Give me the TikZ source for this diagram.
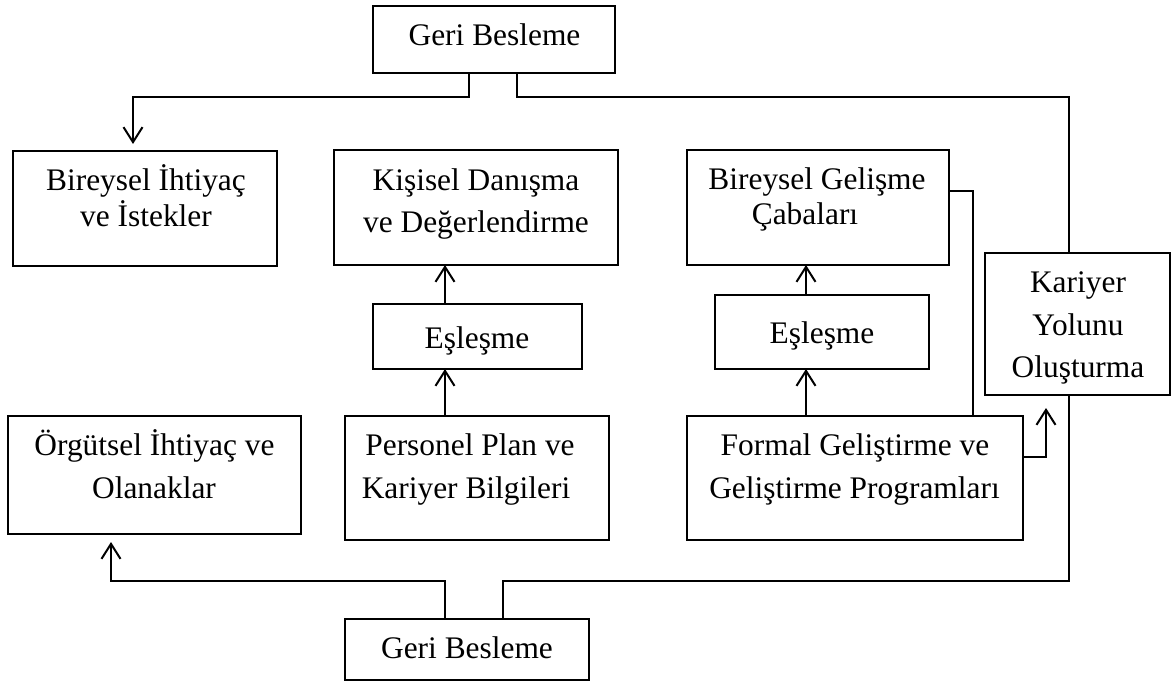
\documentclass[tikz,border=0pt]{standalone}
\usepackage{fontspec}
\setmainfont{Liberation Serif}
\usetikzlibrary{arrows.meta,calc}

\begin{document}
\begin{tikzpicture}[
  x=0.5pt, y=-0.5pt,
  box/.style={draw, line width=1pt, inner sep=0pt, outer sep=0pt},
  bx/.style 2 args={minimum width=#1*0.5pt, minimum height=#2*0.5pt},
  txt/.style={anchor=base, inner sep=0pt, font=\fontsize{15.7}{19}\selectfont},
  line/.style={draw, line width=1pt},
  arr/.style={line, -{Straight Barb[length=7.5pt, width=9.5pt, line width=1pt]}}
]
\useasboundingbox (0,0) rectangle (1176,684);

% boxes
\node[box, bx={242}{67}]  (gtop) at (494,39.5)   {};
\node[box, bx={264}{115}] (bi)   at (145,208.5)  {};
\node[box, bx={284}{115}] (kd)   at (476,207.5)  {};
\node[box, bx={262}{115}] (bg)   at (818,207.5)  {};
\node[box, bx={209}{65}]  (e1)   at (477.5,336.5){};
\node[box, bx={214}{74}]  (e2)   at (822,332)    {};
\node[box, bx={264}{124}] (pp)   at (477,478)    {};
\node[box, bx={336}{124}] (fg)   at (855,478)    {};
\node[box, bx={293}{118}] (og)   at (154.5,475)  {};
\node[box, bx={185}{142}] (ky)   at (1077.5,324) {};
\node[box, bx={244}{61}]  (gbot) at (467,649.5)  {};

% labels
\node[txt] (gtop-a) at (494.5,46) {Geri Besleme};
\node[txt] (bi-a) at (146,191) {Bireysel İhtiyaç};
\node[txt] (bi-b) at (146,227) {ve İstekler};
\node[txt] (kd-a) at (476,191) {Kişisel Danışma};
\node[txt] (kd-b) at (476,232) {ve Değerlendirme};
\node[txt] (bg-a) at (817,190) {Bireysel Gelişme};
\node[txt] (bg-b) at (805,225) {Çabaları};
\node[txt] (e1-a) at (477,348) {Eşleşme};
\node[txt] (e2-a) at (822,343) {Eşleşme};
\node[txt] (pp-a) at (470,455) {Personel Plan ve};
\node[txt] (pp-b) at (466,498) {Kariyer Bilgileri};
\node[txt] (fg-a) at (855,455) {Formal Geliştirme ve};
\node[txt] (fg-b) at (854.5,498) {Geliştirme Programları};
\node[txt] (og-a) at (154.5,455) {Örgütsel İhtiyaç ve};
\node[txt] (og-b) at (154,498) {Olanaklar};
\node[txt] (ky-a) at (1078,292) {Kariyer};
\node[txt] (ky-b) at (1078,335) {Yolunu};
\node[txt] (ky-c) at (1078,377) {Oluşturma};
\node[txt] (gbot-a) at (467,658) {Geri Besleme};

% routing guides
\coordinate (ax1) at (445,0);
\coordinate (ax2) at (806,0);
\coordinate (xl)  at (469,0);
\coordinate (xr)  at (517,0);
\coordinate (xa)  at (133,0);
\coordinate (xk)  at (1069,0);
\coordinate (xv)  at (973,0);
\coordinate (xf)  at (1046,0);
\coordinate (xo)  at (111,0);
\coordinate (xb2) at (503,0);
\coordinate (yt)  at (0,97);
\coordinate (yb)  at (0,581);

% matching columns
\draw[arr] (pp.north -| ax1) -- (e1.south -| ax1);
\draw[arr] (e1.north -| ax1) -- (kd.south -| ax1);
\draw[arr] (fg.north -| ax2) -- (e2.south -| ax2);
\draw[arr] (e2.north -| ax2) -- (bg.south -| ax2);

% feedback from the top
\draw[arr] (gtop.south -| xl) |- (yt -| xa) -- ($(bi.north -| xa)+(0,-7)$);
\draw[line] (gtop.south -| xr) |- (yt -| xk) -- (ky.north -| xk);

% development efforts and career path
\draw[line] ($(bg.north east)+(0,41)$) -| (fg.north -| xv);
\draw[arr] ($(fg.east)+(0,-21)$) -| ($(ky.south -| xf)+(0,13)$);

% feedback from the bottom
\draw[arr] (gbot.north -| ax1) |- (yb -| xo) -- ($(og.south -| xo)+(0,8)$);
\draw[line] (gbot.north -| xb2) |- (yb -| xk) -- (ky.south -| xk);
\end{tikzpicture}
\end{document}
